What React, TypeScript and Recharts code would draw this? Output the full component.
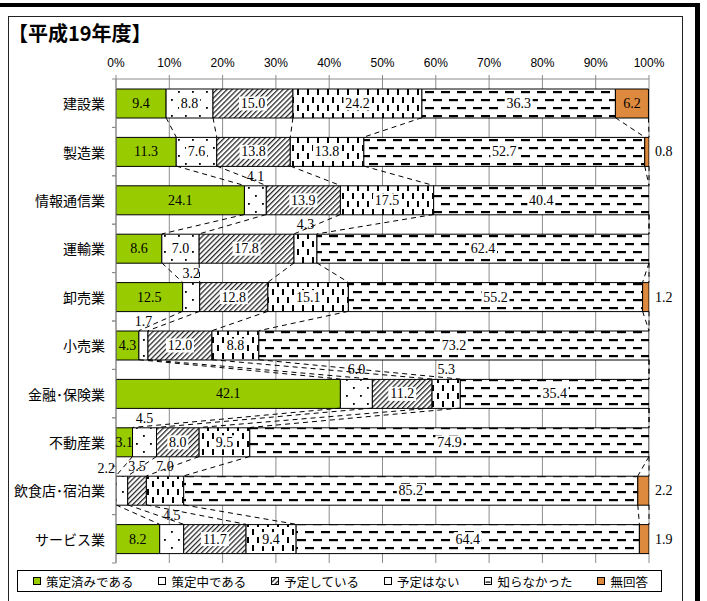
import React from "react";
import {
  BarChart,
  Bar,
  XAxis,
  YAxis,
  CartesianGrid,
  ReferenceLine,
  LabelList,
} from "recharts";

const categories = [
  "建設業",
  "製造業",
  "情報通信業",
  "運輸業",
  "卸売業",
  "小売業",
  "金融･保険業",
  "不動産業",
  "飲食店･宿泊業",
  "サービス業",
];
const done = [9.4, 11.3, 24.1, 8.6, 12.5, 4.3, 42.1, 3.1, 0, 8.2];
const drafting = [8.8, 7.6, 4.1, 7.0, 3.2, 1.7, 6.0, 4.5, 2.2, 4.5];
const planned = [15.0, 13.8, 13.9, 17.8, 12.8, 12.0, 11.2, 8.0, 3.5, 11.7];
const noPlan = [24.2, 13.8, 17.5, 4.3, 15.1, 8.8, 5.3, 9.5, 7.0, 9.4];
const unaware = [36.3, 52.7, 40.4, 62.4, 55.2, 73.2, 35.4, 74.9, 85.2, 64.4];
const noAnswer = [6.2, 0.8, 0, 0, 1.2, 0, 0, 0, 2.2, 1.9];

const seriesNames = ["策定済みである", "策定中である", "予定している", "予定はない", "知らなかった", "無回答"];
const seriesKeys = ["done", "drafting", "planned", "noPlan", "unaware", "noAnswer"];
const seriesValues = [done, drafting, planned, noPlan, unaware, noAnswer];
const xTicks = [0, 10, 20, 30, 40, 50, 60, 70, 80, 90, 100];

const fills = ["#99cc00", "url(#pDots)", "url(#pHatch)", "url(#pVdash)", "url(#pHdash)", "#de8a3e"];
const legendFills = ["#99cc00", "#fff", "url(#pHatch)", "#fff", "url(#pLegDash)", "#de8a3e"];
// below these values the label of a patterned segment goes above the bar
const aboveLimit = [0, 6.5, 6.5, 7.5, 0, 0];

const W = 707;
const H = 601;
const M = { top: 49, right: 58, bottom: 38, left: 0 };
const X_AXIS_H = 30;
const PLOT_TOP = M.top + X_AXIS_H;
const BAND = (H - PLOT_TOP - M.bottom) / categories.length;
const BAR = 29;
const GRID = "#8c8c8c";
const SERIF = "'Liberation Serif', 'DejaVu Serif', serif";
const SANS = "'Liberation Sans', Arial, sans-serif";
const JP = "'Noto Sans CJK JP', 'Noto Sans', sans-serif";

const data = categories.map((name, i) => {
  const row: Record<string, any> = { name };
  seriesKeys.forEach((k, s) => (row[k] = seriesValues[s][i]));
  return row;
});

const cumAt = (i: number, s: number) => {
  let t = 0;
  for (let k = 0; k <= s; k++) t += seriesValues[k][i];
  return Math.min(100, Math.round(t * 10) / 10);
};

const connectors: { a: number; b: number; c1: string; c2: string }[] = [];
for (let i = 0; i < categories.length - 1; i++) {
  for (let s = 0; s < seriesKeys.length; s++) {
    connectors.push({ a: cumAt(i, s), b: cumAt(i + 1, s), c1: categories[i], c2: categories[i + 1] });
  }
}

const CategoryTick = (props: any) => {
  const { x, y, payload } = props;
  return (
    <g>
      <text x={x} y={y} textAnchor="end" dominantBaseline="central" fontFamily={JP} fontSize={14} fill="#000">
        {payload.value}
      </text>
      <line x1={x + 7} x2={x + 11} y1={y - BAND / 2} y2={y - BAND / 2} stroke={GRID} />
      <line x1={x + 7} x2={x + 11} y1={y + BAND / 2} y2={y + BAND / 2} stroke={GRID} />
    </g>
  );
};

const renderLabel = (s: number) => (p: any) => {
  const vb = p.viewBox || p;
  const { x, y, width, height } = vb;
  let v = p.value;
  if (Array.isArray(v)) v = v[1] - v[0];
  v = Number(v);
  if (!v) return null;
  // which category row this segment sits in
  const row = Math.floor((y + height / 2 - PLOT_TOP) / BAND);
  const text = v.toFixed(1);
  const style = { fontFamily: SERIF, fontSize: 14, fill: "#000" };
  const key = `l${s}-${row}`;
  if (s === 5 && v < 3) {
    return (
      <text key={key} x={x + width + 6} y={y + height / 2} dominantBaseline="central" {...style}>
        {text}
      </text>
    );
  }
  if (v < aboveLimit[s]) {
    if (s === 1 && done[row] === 0) {
      return (
        <text key={key} x={x - 1} y={y - 3} textAnchor="end" {...style}>
          {text}
        </text>
      );
    }
    return (
      <text key={key} x={x + width / 2} y={y - 5} textAnchor="middle" {...style}>
        {text}
      </text>
    );
  }
  const cx = x + width / 2;
  const cy = y + height / 2;
  const tw = text.length * 7 - 2;
  return (
    <g key={key}>
      {s >= 1 && s <= 4 && <rect x={cx - tw / 2 - 1} y={cy - 7} width={tw + 2} height={14} fill="#fff" />}
      <text x={cx} y={cy} textAnchor="middle" dominantBaseline="central" {...style}>
        {text}
      </text>
    </g>
  );
};

const connectorShape = (p: any) => (
  <line
    x1={p.x1}
    y1={p.y1 + BAR / 2}
    x2={p.x2}
    y2={p.y2 - BAR / 2}
    stroke="#000"
    strokeWidth={1}
    strokeDasharray="5 4"
  />
);

const Patterns = () => (
  <defs>
    <pattern id="pDots" width="14" height="16" patternUnits="userSpaceOnUse">
      <rect width="14" height="16" fill="#fff" />
      <rect x="3" y="3" width="1.8" height="1.8" fill="#000" />
      <rect x="10" y="11" width="1.8" height="1.8" fill="#000" />
    </pattern>
    <pattern id="pHatch" width="3.6" height="3.6" patternUnits="userSpaceOnUse" patternTransform="rotate(45)">
      <rect width="3.6" height="3.6" fill="#fff" />
      <line x1="0.6" y1="0" x2="0.6" y2="3.6" stroke="#222" strokeWidth="1.3" />
    </pattern>
    <pattern id="pVdash" width="10" height="16" patternUnits="userSpaceOnUse">
      <rect width="10" height="16" fill="#fff" />
      <rect x="2" y="1" width="2" height="6" fill="#000" />
      <rect x="7" y="9" width="2" height="6" fill="#000" />
    </pattern>
    <pattern id="pHdash" width="16" height="16" patternUnits="userSpaceOnUse">
      <rect width="16" height="16" fill="#fff" />
      <rect x="1" y="3" width="9" height="2.2" fill="#000" />
      <rect x="9" y="11" width="9" height="2.2" fill="#000" />
      <rect x="-7" y="11" width="9" height="2.2" fill="#000" />
    </pattern>
    <pattern id="pLegDash" width="8" height="8" patternUnits="objectBoundingBox">
      <rect width="8" height="8" fill="#fff" />
      <rect x="1" y="4.5" width="6" height="1.2" fill="#000" />
    </pattern>
  </defs>
);

const LegendBox = () => (
  <div
    style={{
      position: "absolute",
      left: 17,
      top: 570,
      width: 645,
      height: 22,
      boxSizing: "border-box",
      border: "1px solid #000",
      display: "flex",
      alignItems: "center",
      justifyContent: "space-between",
      paddingLeft: 15,
      paddingRight: 13,
      fontFamily: JP,
      fontSize: 12.5,
      color: "#000",
      background: "#fff",
    }}
  >
    {seriesNames.map((n, s) => (
      <span key={n} style={{ display: "flex", alignItems: "center" }}>
        <svg width={8} height={8} style={{ marginRight: 5 }}>
          {s === 4 ? (
            <g>
              <rect x={0.5} y={0.5} width={7} height={7} fill="#fff" stroke="#000" />
              <rect x={1.5} y={4.5} width={5} height={1.2} fill="#000" />
            </g>
          ) : (
            <rect x={0.5} y={0.5} width={7} height={7} fill={legendFills[s]} stroke="#000" />
          )}
        </svg>
        {n}
      </span>
    ))}
  </div>
);

export default function App() {
  return (
    <div style={{ position: "relative", width: W, height: H, background: "#fff", overflow: "hidden" }}>
      <style>{`body{margin:0}`}</style>
      <div style={{ position: "absolute", left: 0, top: 3, width: 700, height: 4, background: "#000" }} />
      <div style={{ position: "absolute", left: 695, top: 3, width: 5, height: 600, background: "#000" }} />
      <div
        style={{
          position: "absolute",
          left: 8,
          top: 16,
          width: 673,
          height: 600,
          borderTop: "1px solid #222",
          borderLeft: "1px solid #222",
          borderRight: "1px solid #222",
        }}
      />
      <div
        style={{
          position: "absolute",
          left: 8,
          top: 22,
          fontFamily: JP,
          fontSize: 20,
          fontWeight: 700,
          lineHeight: "22px",
          color: "#000",
        }}
      >
        【平成19年度】
      </div>
      <div style={{ position: "absolute", left: 0, top: 0 }}>
        <BarChart width={W} height={H} data={data} layout="vertical" margin={M} barSize={BAR}>
          <Patterns />
          <CartesianGrid horizontal={false} stroke={GRID} />
          <XAxis
            type="number"
            orientation="top"
            domain={[0, 100]}
            allowDataOverflow
            ticks={xTicks}
            tickFormatter={(v: number) => `${v}%`}
            height={X_AXIS_H}
            tickSize={4}
            tickMargin={8}
            stroke={GRID}
            tick={{ fontFamily: SANS, fontSize: 12, fill: "#000" }}
          />
          <YAxis
            type="category"
            dataKey="name"
            width={116}
            interval={0}
            tickSize={4}
            tickMargin={7}
            tickLine={false}
            stroke={GRID}
            tick={<CategoryTick />}
          />
          {seriesKeys.map((k, s) => (
            <Bar
              key={k}
              dataKey={k}
              name={seriesNames[s]}
              stackId="a"
              fill={fills[s]}
              stroke="#000"
              strokeWidth={1}
              isAnimationActive={false}
            >
              <LabelList dataKey={k} content={renderLabel(s)} />
            </Bar>
          ))}
          {connectors.map((c, j) => (
            <ReferenceLine
              key={`c${j}`}
              segment={[
                { x: c.a, y: c.c1 },
                { x: c.b, y: c.c2 },
              ]}
              position="middle"
              ifOverflow="visible"
              shape={connectorShape}
            />
          ))}
        </BarChart>
      </div>
      <LegendBox />
    </div>
  );
}
